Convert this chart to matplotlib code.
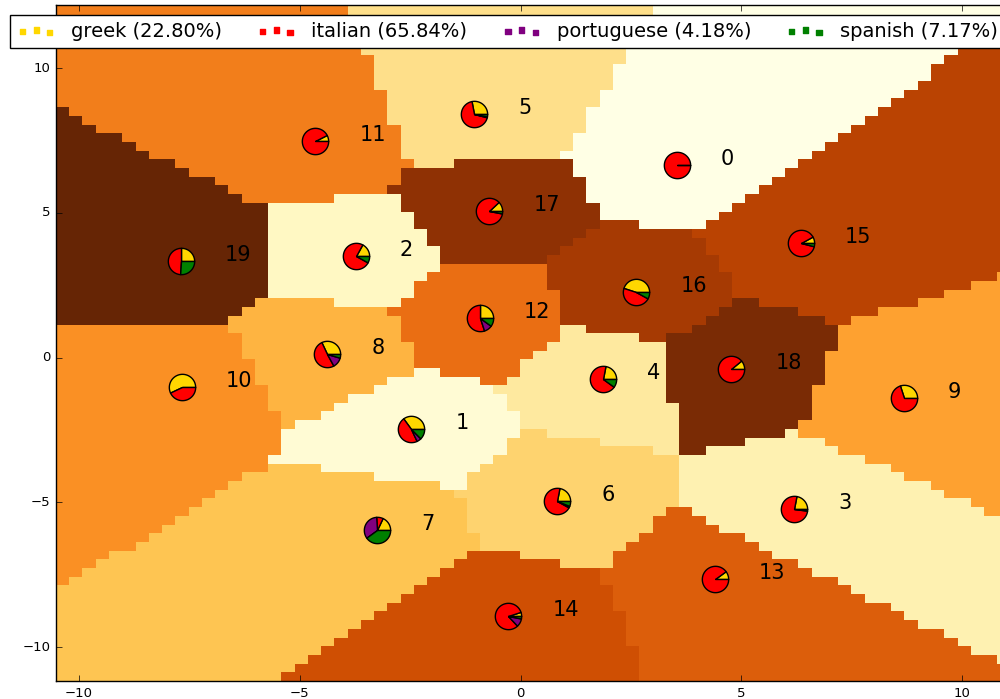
import numpy as np
import matplotlib
matplotlib.use("Agg")
import matplotlib.pyplot as plt

plt.style.use("classic")

cuisines = ["greek", "italian", "portuguese", "spanish"]
cuisine_colors = ["gold", "red", "purple", "green"]
overall_share = [22.80, 65.84, 4.18, 7.17]

cluster_ids = list(range(20))
cluster_x = [3.54, -2.48, -3.73, 6.19, 1.87, -1.05, 0.83, -3.25, -4.38, 8.68,
             -7.67, -4.65, -0.92, 4.40, -0.28, 6.35, 2.62, -0.71, 4.77, -7.69]
cluster_y = [6.66, -2.47, 3.51, -5.23, -0.74, 8.42, -4.95, -5.95, 0.13, -1.39,
             -1.01, 7.49, 1.37, -7.65, -8.92, 3.96, 2.27, 5.07, -0.39, 3.34]

# share of each cuisine inside a cluster: greek, italian, portuguese, spanish
greek_share = [0.00, 0.35, 0.17, 0.22, 0.22, 0.28, 0.22, 0.18, 0.32, 0.30,
               0.57, 0.075, 0.25, 0.10, 0.05, 0.08, 0.45, 0.12, 0.11, 0.25]
italian_share = [1.00, 0.47, 0.75, 0.76, 0.68, 0.68, 0.70, 0.08, 0.51, 0.70,
                 0.43, 0.925, 0.55, 0.90, 0.82, 0.88, 0.47, 0.85, 0.89, 0.49]
portuguese_share = [0.00, 0.055, 0.00, 0.00, 0.00, 0.01, 0.02, 0.34, 0.125, 0.00,
                    0.00, 0.00, 0.10, 0.00, 0.10, 0.00, 0.00, 0.00, 0.00, 0.00]
spanish_share = [0.00, 0.125, 0.08, 0.02, 0.10, 0.03, 0.06, 0.40, 0.045, 0.00,
                 0.00, 0.00, 0.10, 0.00, 0.03, 0.04, 0.08, 0.03, 0.00, 0.26]

xlim = (-10.52, 11.0)
ylim = (-11.18, 12.18)
step = 0.3
pie_size = 360

fig = plt.figure(figsize=(10, 6.99), dpi=100, facecolor="white")
ax = fig.add_axes([0.056, 0.0253, 0.9503, 0.9675])

# cluster regions: every grid cell takes the label of its nearest centre
xe = np.arange(xlim[0], xlim[1] + step, step)
ye = np.arange(ylim[0], ylim[1] + step, step)
xc, yc = np.meshgrid(xe[:-1] + step / 2, ye[:-1] + step / 2)
centers = np.column_stack([cluster_x, cluster_y])
dist = (xc[..., None] - centers[:, 0]) ** 2 + (yc[..., None] - centers[:, 1]) ** 2
Z = dist.argmin(axis=2)
ax.imshow(Z, extent=(xe[0], xe[-1], ye[0], ye[-1]), origin="lower",
          cmap="YlOrBr", vmin=0, vmax=19, aspect="auto", interpolation="nearest")


def wedge(start, stop):
    theta = np.linspace(2 * np.pi * start, 2 * np.pi * stop,
                        max(int(80 * (stop - start)), 2) + 1)
    arc = np.column_stack([np.cos(theta), np.sin(theta)])
    return np.vstack([[0, 0], arc, [0, 0]])


shares = np.column_stack([greek_share, italian_share, portuguese_share, spanish_share])
for i in cluster_ids:
    mix = shares[i] / shares[i].sum()
    start = 0.0
    for frac, col in zip(mix, cuisine_colors):
        if frac <= 0:
            continue
        verts = wedge(start, start + frac)
        ax.scatter([cluster_x[i]], [cluster_y[i]], marker=verts,
                   s=pie_size * np.abs(verts).max() ** 2,
                   facecolor=col, edgecolor="black", linewidths=1, zorder=3)
        start += frac
    ax.text(cluster_x[i] + 1, cluster_y[i], str(i), fontsize=15,
            ha="left", va="baseline", zorder=4)

handles = []
for name, col, pct in zip(cuisines, cuisine_colors, overall_share):
    handles.append(ax.scatter([], [], marker="s", s=14, color=col, edgecolor=col,
                              label="%s (%.2f%%)" % (name, pct)))

fig.legend(handles=handles, loc="upper left", ncol=4, mode="expand",
           bbox_to_anchor=(0.01, 0.0, 0.995, 0.9785), bbox_transform=fig.transFigure,
           borderaxespad=0, fontsize=14, scatterpoints=3, fancybox=False,
           frameon=True, borderpad=0.35)

ax.set_xlim(xlim)
ax.set_ylim(ylim)
ax.set_xticks([-10, -5, 0, 5, 10])
ax.set_yticks([-10, -5, 0, 5, 10])
ax.tick_params(labelsize=9.5)

fig.savefig("out.png", dpi=100, facecolor="white")
